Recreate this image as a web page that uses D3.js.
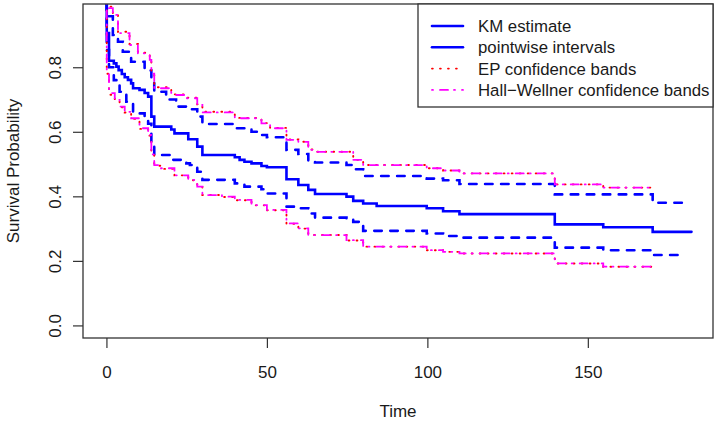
<!DOCTYPE html>
<html>
<head>
<meta charset="utf-8">
<script src="https://d3js.org/d3.v7.min.js"></script>
<style>
  body { margin: 0; background: #fff; overflow: hidden; }
  text { font-family: "Liberation Sans", Arial, Helvetica, sans-serif; fill: #1a1a1a; }
</style>
<title>KM curve with confidence bands</title>
</head>
<body>
<script>
// Kaplan-Meier estimate (step after each time)
const kmTime = [0, 0.1, 0.8, 2.3, 3.1, 3.8, 4.8, 5.7, 6.7, 7.7, 8.3, 10.3, 11.9, 13.0, 14.0, 14.9, 20.2, 21.2, 25.5, 28.3, 29.9, 40, 41.5, 43, 45.2, 48.3, 50, 56.1, 59.8, 62.9, 65, 74.8, 76.9, 80, 84.2, 99.8, 104.9, 110, 139.7, 154.8, 170.2, 182.3];
const kmSurv = [1, 0.906, 0.82, 0.812, 0.802, 0.791, 0.779, 0.769, 0.761, 0.75, 0.735, 0.73, 0.72, 0.709, 0.647, 0.616, 0.607, 0.595, 0.577, 0.554, 0.528, 0.521, 0.513, 0.507, 0.502, 0.494, 0.49, 0.453, 0.435, 0.42, 0.407, 0.399, 0.386, 0.378, 0.37, 0.363, 0.354, 0.345, 0.313, 0.304, 0.29, 0.29];

// pointwise intervals
const pwUpTime = [0, 0.1, 2.0, 3.6, 5.1, 7.7, 11.9, 14.0, 14.9, 18.6, 21.7, 25.4, 28.3, 29.9, 40, 45.2, 48.3, 50, 56.1, 59.8, 62.9, 65, 74.8, 76.9, 80, 99.8, 104.9, 110, 139.7, 170.2, 179.7];
const pwUpper  = [1, 0.958, 0.9, 0.879, 0.848, 0.817, 0.79, 0.76, 0.724, 0.70, 0.678, 0.67, 0.647, 0.624, 0.611, 0.60, 0.59, 0.583, 0.544, 0.531, 0.51, 0.505, 0.497, 0.484, 0.463, 0.455, 0.45, 0.438, 0.406, 0.38, 0.38];
const pwLoTime = [0, 0.1, 0.8, 2.3, 4.1, 6.2, 8.3, 11.9, 13.0, 14.0, 14.9, 20.2, 24.9, 26, 28.3, 29.9, 40, 43, 48.3, 50, 56.1, 59.8, 62.9, 65, 74.8, 76.9, 80, 99.8, 104.9, 110, 139.7, 154.8, 170.2, 179.7];
const pwLower  = [1, 0.853, 0.80, 0.76, 0.724, 0.693, 0.657, 0.637, 0.625, 0.555, 0.528, 0.513, 0.502, 0.497, 0.476, 0.451, 0.44, 0.43, 0.422, 0.409, 0.368, 0.363, 0.347, 0.334, 0.328, 0.321, 0.293, 0.285, 0.277, 0.272, 0.241, 0.233, 0.218, 0.218];

// EP confidence bands
const epUpTime = [0, 0.1, 2.0, 3.6, 7.2, 9.8, 13.5, 14.0, 14.9, 20.2, 24.9, 28.3, 29.9, 40, 48.3, 51, 56.1, 59.8, 62.9, 65, 76.9, 80, 99.8, 104.9, 110, 139.7, 154.8, 170.2];
const epUpper  = [1, 0.988, 0.965, 0.91, 0.872, 0.845, 0.825, 0.785, 0.738, 0.716, 0.706, 0.685, 0.662, 0.643, 0.627, 0.612, 0.576, 0.569, 0.545, 0.538, 0.513, 0.497, 0.487, 0.48, 0.471, 0.437, 0.427, 0.427];
const epLoTime = [0, 0.1, 0.8, 2.6, 4.1, 5.7, 7.7, 10.3, 13.0, 14.0, 14.9, 17, 21.2, 25.5, 28.3, 29.9, 36, 40, 45.2, 50, 56.1, 59.8, 62.9, 74.8, 80, 99.8, 104.9, 110, 139.7, 154.8, 170.2];
const epLower  = [1, 0.78, 0.715, 0.697, 0.676, 0.66, 0.64, 0.609, 0.588, 0.528, 0.495, 0.485, 0.465, 0.45, 0.429, 0.404, 0.398, 0.388, 0.372, 0.357, 0.315, 0.30, 0.28, 0.263, 0.244, 0.233, 0.228, 0.223, 0.192, 0.182, 0.182];

// Hall-Wellner confidence bands
const hwUpTime = [0, 0.1, 2.0, 3.6, 7.2, 9.8, 13.5, 14.0, 14.9, 20.2, 24.9, 28.3, 29.9, 40, 48.3, 51, 56.1, 59.8, 62.9, 65, 76.9, 80, 99.8, 104.9, 110, 139.7, 154.8, 170.2];
const hwUpper  = [1, 0.983, 0.962, 0.906, 0.869, 0.843, 0.823, 0.78, 0.735, 0.714, 0.704, 0.683, 0.66, 0.642, 0.626, 0.611, 0.575, 0.569, 0.544, 0.538, 0.513, 0.497, 0.487, 0.48, 0.471, 0.437, 0.427, 0.427];
const hwLoTime = [0, 0.1, 0.8, 2.6, 4.1, 5.7, 7.7, 10.3, 13.0, 14.0, 14.9, 17, 21.2, 25.5, 28.3, 29.9, 36, 40, 45.2, 50, 56.1, 59.8, 62.9, 74.8, 80, 99.8, 104.9, 110, 139.7, 154.8, 170.2];
const hwLower  = [1, 0.786, 0.72, 0.699, 0.678, 0.662, 0.642, 0.611, 0.59, 0.53, 0.497, 0.487, 0.465, 0.451, 0.43, 0.404, 0.399, 0.389, 0.373, 0.358, 0.316, 0.301, 0.28, 0.264, 0.244, 0.233, 0.228, 0.223, 0.192, 0.182, 0.182];

const xTicks = [0, 50, 100, 150];
const yTicks = [0, 0.2, 0.4, 0.6, 0.8];
const legendLabels = ["KM estimate", "pointwise intervals", "EP confidence bands", "Hall\u2212Wellner confidence bands"];

// plot box
const W = 715, H = 421;
const box = { left: 83, right: 713, top: 4, bottom: 338 };

const x = d3.scaleLinear().domain([-7.3, 189]).range([box.left, box.right]);
const y = d3.scaleLinear().domain([-0.039, 0.996]).range([box.bottom, box.top]);

const svg = d3.select("body").append("svg")
  .attr("width", W)
  .attr("height", H);

svg.append("defs").append("clipPath")
  .attr("id", "plotclip")
  .append("rect")
  .attr("x", box.left).attr("y", box.top)
  .attr("width", box.right - box.left)
  .attr("height", box.bottom - box.top);

const step = d3.line()
  .x(d => x(d[0]))
  .y(d => y(d[1]))
  .curve(d3.curveStepAfter);

const plot = svg.append("g").attr("clip-path", "url(#plotclip)");

// line styles
const BLUE = "#0000ff", RED = "#ff0000", MAGENTA = "#ff00ff";
const series = [
  { t: kmTime, v: kmSurv, color: BLUE, w: 2.6, dash: null },
  { t: pwUpTime, v: pwUpper, color: BLUE, w: 2.6, dash: "7.5,8.5" },
  { t: pwLoTime, v: pwLower, color: BLUE, w: 2.6, dash: "7.5,8.5" },
  { t: epUpTime, v: epUpper, color: RED, w: 1.9, dash: "0.8,7.2" },
  { t: epLoTime, v: epLower, color: RED, w: 1.9, dash: "0.8,7.2" },
  { t: hwUpTime, v: hwUpper, color: MAGENTA, w: 1.8, dash: "1,7,8,6" },
  { t: hwLoTime, v: hwLower, color: MAGENTA, w: 1.8, dash: "1,7,8,6" }
];

series.forEach(function (s) {
  plot.append("path")
    .datum(d3.zip(s.t, s.v))
    .attr("d", step)
    .attr("fill", "none")
    .attr("stroke", s.color)
    .attr("stroke-width", s.w)
    .attr("stroke-linecap", "round")
    .attr("stroke-dasharray", s.dash);
});

// axes
const axisColor = "#333";
const fs = "17px";

const yAxis = svg.append("g")
  .attr("transform", "translate(" + box.left + ",0)")
  .call(d3.axisLeft(y).tickValues(yTicks).tickSize(10).tickFormat(d3.format(".1f")));
yAxis.select(".domain").remove();
yAxis.selectAll("line").attr("stroke", axisColor).attr("stroke-width", 1.2);
yAxis.selectAll("text")
  .attr("x", null).attr("dy", null)
  .attr("text-anchor", "middle")
  .attr("transform", "translate(-22,0) rotate(-90)")
  .style("font-size", fs)
  .style("font-family", "'Liberation Sans', Arial, sans-serif")
  .attr("fill", "#1a1a1a");

const xAxis = svg.append("g")
  .attr("transform", "translate(0," + box.bottom + ")")
  .call(d3.axisBottom(x).tickValues(xTicks).tickSize(10));
xAxis.select(".domain").remove();
xAxis.selectAll("line").attr("stroke", axisColor).attr("stroke-width", 1.2);
xAxis.selectAll("text")
  .attr("y", 40).attr("dy", null)
  .style("font-size", fs)
  .style("font-family", "'Liberation Sans', Arial, sans-serif")
  .attr("fill", "#1a1a1a");

// box
svg.append("rect")
  .attr("x", box.left).attr("y", box.top)
  .attr("width", box.right - box.left)
  .attr("height", box.bottom - box.top)
  .attr("fill", "none")
  .attr("stroke", axisColor)
  .attr("stroke-width", 1.3);

// axis titles
svg.append("text")
  .attr("x", (box.left + box.right) / 2)
  .attr("y", 417)
  .attr("text-anchor", "middle")
  .style("font-size", fs)
  .text("Time");

svg.append("text")
  .attr("transform", "translate(19," + ((box.top + box.bottom) / 2) + ") rotate(-90)")
  .attr("text-anchor", "middle")
  .style("font-size", fs)
  .text("Survival Probability");

// legend
const legend = svg.append("g");
legend.append("rect")
  .attr("x", 418).attr("y", box.top)
  .attr("width", box.right - 418)
  .attr("height", 103)
  .attr("fill", "#fff")
  .attr("stroke", axisColor)
  .attr("stroke-width", 1.3);

const legendStyles = [
  { color: BLUE, w: 2.6, dash: null },
  { color: BLUE, w: 2.6, dash: null },
  { color: RED, w: 1.9, dash: "0.8,7.2" },
  { color: MAGENTA, w: 1.8, dash: "1,7,8,6" }
];

legendLabels.forEach(function (lab, i) {
  const ry = 26 + i * 21.3;
  legend.append("line")
    .attr("x1", 432).attr("x2", 463)
    .attr("y1", ry).attr("y2", ry)
    .attr("stroke", legendStyles[i].color)
    .attr("stroke-width", legendStyles[i].w)
    .attr("stroke-linecap", "round")
    .attr("stroke-dasharray", legendStyles[i].dash);
  legend.append("text")
    .attr("x", 478).attr("y", ry)
    .attr("dy", "0.36em")
    .style("font-size", "16.8px")
    .text(lab);
});
</script>
</body>
</html>
